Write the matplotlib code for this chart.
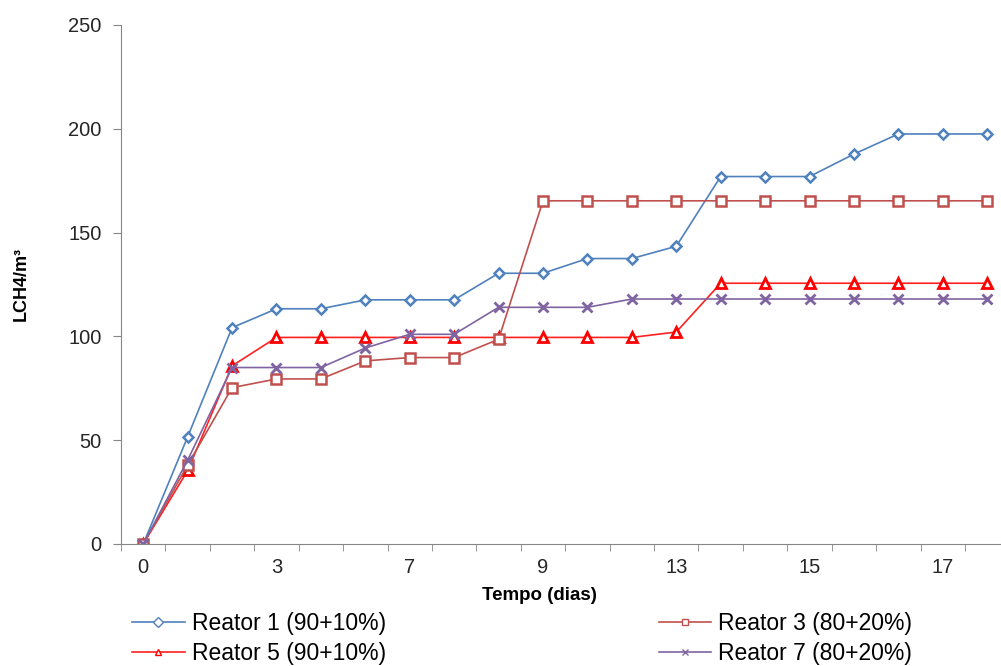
import numpy as np
import matplotlib.pyplot as plt

plt.rcParams['font.family'] = ['Liberation Sans', 'DejaVu Sans']

# one value per sample (20 samples); only some days are labelled on the axis
n_points = 20
tick_idx = [0, 3, 6, 9, 12, 15, 18]
tick_labels = ['0', '3', '7', '9', '13', '15', '17']

reator1 = [0, 51.6, 104.2, 113.3, 113.3, 117.6, 117.6, 117.6, 130.4, 130.4,
           137.5, 137.5, 143.4, 177.0, 177.0, 177.0, 187.8, 197.5, 197.5, 197.5]
reator3 = [0, 38.0, 75.3, 79.5, 79.5, 88.2, 89.8, 89.8, 98.6, 165.3,
           165.3, 165.3, 165.3, 165.3, 165.3, 165.3, 165.3, 165.3, 165.3, 165.3]
reator5 = [0, 35.4, 85.8, 99.5, 99.5, 99.5, 99.5, 99.5, 99.5, 99.5,
           99.5, 99.5, 102.1, 125.6, 125.6, 125.6, 125.6, 125.6, 125.6, 125.6]
reator7 = [0, 40.4, 85.0, 85.0, 85.0, 94.4, 101.0, 101.0, 114.0, 114.0,
           114.0, 118.0, 118.0, 118.0, 118.0, 118.0, 118.0, 118.0, 118.0, 118.0]

x = np.arange(n_points)

fig = plt.figure(figsize=(10.01, 6.66), dpi=100)
ax = fig.add_axes([0.1209, 0.1832, 0.8875, 0.7793])

l1, = ax.plot(x, reator1, color='#4F81BD', lw=1.2, marker='D', ms=5.5,
              mfc='white', mec='#4F81BD', mew=1.8, label='Reator 1 (90+10%)')
l5, = ax.plot(x, reator5, color='#FF2020', lw=1.2, marker='^', ms=7,
              mfc='white', mec='#FF0000', mew=2.0, label='Reator 5 (90+10%)')
l3, = ax.plot(x, reator3, color='#C0504D', lw=1.2, marker='s', ms=6.5,
              mfc='white', mec='#C0504D', mew=1.8, label='Reator 3 (80+20%)')
l7, = ax.plot(x, reator7, color='#8064A2', lw=1.2, marker='x', ms=6.5,
              mec='#8064A2', mew=2.0, label='Reator 7 (80+20%)')

ax.set_xlim(-0.5, n_points - 0.5)
ax.set_ylim(0, 250)
ax.set_yticks(np.arange(0, 251, 50))
ax.set_xticks(tick_idx)
ax.set_xticklabels(tick_labels)
ax.set_xticks(np.arange(-0.5, n_points, 1), minor=True)
ax.tick_params(axis='x', which='major', length=0, pad=10, labelsize=14.5,
               labelcolor='#262626')
ax.tick_params(axis='x', which='minor', length=5, color='#868686')
ax.tick_params(axis='y', which='major', length=6, color='#868686', pad=8,
               labelsize=14.5, labelcolor='#262626')

for side in ['top', 'right']:
    ax.spines[side].set_visible(False)
for side in ['left', 'bottom']:
    ax.spines[side].set_color('#868686')

ax.set_xlabel('Tempo (dias)', fontsize=13.5, fontweight='bold')
ax.xaxis.set_label_coords(0.471, -0.082)
ax.set_ylabel('LCH4/m³', fontsize=13, fontweight='bold')
ax.yaxis.set_label_coords(-0.103, 0.5)

leg = fig.legend(handles=[l1, l5, l3, l7], ncol=2, loc='upper left',
                 bbox_to_anchor=(0.132, 0.081), frameon=False, fontsize=16.5,
                 handlelength=2.3, handletextpad=0.3, columnspacing=11.9,
                 labelspacing=0.32, borderaxespad=0, borderpad=0)
for h in leg.legend_handles:
    h.set_markersize(5)
    h.set_markeredgewidth(1)

fig.savefig('out.png', dpi=100)
